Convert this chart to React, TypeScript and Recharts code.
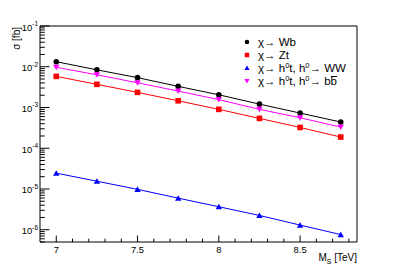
import { Line, LineChart, XAxis, YAxis } from 'recharts'

const masses = [7, 7.25, 7.5, 7.75, 8, 8.25, 8.5, 8.75]
const wb = [0.0133, 0.0084, 0.0054, 0.0033, 0.00205, 0.00121, 0.00073, 0.00044]
const zt = [0.0058, 0.0037, 0.00235, 0.00146, 0.0009, 0.00054, 0.000324, 0.000188]
const hww = [2.45e-5, 1.55e-5, 9.8e-6, 5.96e-6, 3.67e-6, 2.24e-6, 1.3e-6, 7.6e-7]
const hbb = [0.0097, 0.00635, 0.00404, 0.00253, 0.00156, 0.0009, 0.00056, 0.00033]

const xTicks = [7, 7.1, 7.2, 7.3, 7.4, 7.5, 7.6, 7.7, 7.8, 7.9, 8, 8.1, 8.2, 8.3, 8.4, 8.5, 8.6, 8.7, 8.8]
const yMajor = [1e-6, 1e-5, 1e-4, 1e-3, 1e-2, 1e-1]
const yExp = ['-6', '-5', '-4', '-3', '-2', '-1']

const yTicks: number[] = []
;[1e-7, ...yMajor].forEach((d) => {
  for (let k = 1; k <= 9; k++) {
    const v = d * k
    if (v >= 5e-7 && v <= 0.1 * 1.0001) yTicks.push(v)
  }
})

const data = masses.map((m, i) => ({ m, wb: wb[i], zt: zt[i], hww: hww[i], hbb: hbb[i] }))

const FONT = '"Liberation Sans", Arial, Helvetica, sans-serif'

const Circle = ({ cx, cy, s = 1 }: any) => <circle cx={cx} cy={cy} r={2.8 * s} fill='#000' />
const Square = ({ cx, cy, s = 1 }: any) => (
  <rect x={cx - 2.8 * s} y={cy - 2.8 * s} width={5.6 * s} height={5.6 * s} fill='#ff0000' />
)
const TriUp = ({ cx, cy, s = 1 }: any) => (
  <polygon
    points={`${cx - 3.2 * s},${cy + 2.6 * s} ${cx + 3.2 * s},${cy + 2.6 * s} ${cx},${cy - 3 * s}`}
    fill='#0000ff'
  />
)
const TriDown = ({ cx, cy, s = 1 }: any) => (
  <polygon
    points={`${cx - 3.2 * s},${cy - 2.6 * s} ${cx + 3.2 * s},${cy - 2.6 * s} ${cx},${cy + 3 * s}`}
    fill='#ff00ff'
  />
)

function XTick({ x, y, payload }: any) {
  const v = payload.value
  const major = Math.abs(v * 2 - Math.round(v * 2)) < 1e-6
  return (
    <g>
      <line x1={x} x2={x} y1={y} y2={y - (major ? 6.5 : 3.3)} stroke='#000' strokeWidth={1} />
      {major && (
        <text x={x} y={y + 11} textAnchor='middle' fontSize={9.4} fontFamily={FONT} fill='#000'>
          {String(v)}
        </text>
      )}
    </g>
  )
}

function YTick({ x, y, payload }: any) {
  const v = payload.value
  const idx = yMajor.findIndex((d) => Math.abs(v / d - 1) < 1e-6)
  const major = idx >= 0
  return (
    <g>
      <line x1={x} x2={x + (major ? 9.5 : 4.8)} y1={y} y2={y} stroke='#000' strokeWidth={1} />
      {major && (
        <text x={x - 2} y={y + 4.5} textAnchor='end' fontSize={9.4} fontFamily={FONT} fill='#000'>
          10
          <tspan dy={-4.5} fontSize={6.5}>
            {yExp[idx]}
          </tspan>
        </text>
      )}
    </g>
  )
}

function Sup({ children }: any) {
  return <span style={{ fontSize: 7.5, position: 'relative', top: -4.5, lineHeight: '8px' }}>{children}</span>
}

const legendItems = [
  { shape: 'circle', label: <>χ→ Wb</> },
  { shape: 'square', label: <>χ→ Zt</> },
  {
    shape: 'up',
    label: (
      <>
        χ→ h<Sup>0</Sup>t, h<Sup>0</Sup>→ WW
      </>
    ),
  },
  {
    shape: 'down',
    label: (
      <>
        χ→ h<Sup>0</Sup>t, h<Sup>0</Sup>→ b
        <span style={{ display: 'inline-block', borderTop: '1px solid #000', lineHeight: '9px' }}>b</span>
      </>
    ),
  },
]

function LegendBox() {
  return (
    <div style={{ fontFamily: FONT, fontSize: 11.5, color: '#000', lineHeight: '12px' }}>
      {legendItems.map((it, i) => (
        <div key={i} style={{ display: 'flex', alignItems: 'center', height: 13, whiteSpace: 'nowrap' }}>
          <svg width={12} height={12} style={{ marginRight: 4.7, flex: 'none' }}>
            {it.shape === 'circle' && <Circle cx={6} cy={6} s={0.8} />}
            {it.shape === 'square' && <Square cx={6} cy={6} s={0.8} />}
            {it.shape === 'up' && <TriUp cx={6} cy={6} s={0.8} />}
            {it.shape === 'down' && <TriDown cx={6} cy={6} s={0.8} />}
          </svg>
          <span>{it.label}</span>
        </div>
      ))}
    </div>
  )
}

export default function App() {
  return (
    <div style={{ position: 'absolute', left: 0, top: 0, width: 397, height: 269, background: '#fff' }}>
      <LineChart width={397} height={269} data={data} margin={{ top: 25, right: 39, bottom: 26, left: 39 }}>
        <XAxis
          dataKey='m'
          type='number'
          domain={[6.9, 8.85]}
          ticks={xTicks}
          interval={0}
          tick={<XTick />}
          tickLine={false}
          tickSize={0}
          tickMargin={0}
          height={1}
          axisLine={{ stroke: '#000' }}
          allowDataOverflow
          label={{
            content: () => (
              <text x={357} y={261} textAnchor='end' fontSize={10} fontFamily={FONT} fill='#000'>
                M
                <tspan fontSize={7} dy={3}>
                  S
                </tspan>
                <tspan dy={-3}> [TeV]</tspan>
              </text>
            ),
          }}
        />
        <XAxis
          xAxisId='top'
          orientation='top'
          dataKey='m'
          type='number'
          domain={[6.9, 8.85]}
          tick={false}
          tickLine={false}
          height={1}
          axisLine={{ stroke: '#000' }}
        />
        <YAxis
          scale='log'
          domain={[5e-7, 0.1]}
          ticks={yTicks}
          interval={0}
          tick={<YTick />}
          tickLine={false}
          tickSize={0}
          tickMargin={0}
          width={1}
          axisLine={{ stroke: '#000' }}
          allowDataOverflow
          label={{
            content: () => (
              <text
                x={0}
                y={0}
                transform='translate(20,27) rotate(-90)'
                textAnchor='end'
                fontSize={10}
                fontFamily={FONT}
                fill='#000'
              >
                σ [fb]
              </text>
            ),
          }}
        />
        <YAxis
          yAxisId='right'
          orientation='right'
          scale='log'
          domain={[5e-7, 0.1]}
          tick={false}
          tickLine={false}
          width={1}
          axisLine={{ stroke: '#000' }}
        />
        <Line dataKey='wb' stroke='#000' strokeWidth={1} dot={<Circle />} isAnimationActive={false} />
        <Line dataKey='zt' stroke='#ff0000' strokeWidth={1} dot={<Square />} isAnimationActive={false} />
        <Line dataKey='hww' stroke='#0000ff' strokeWidth={1} dot={<TriUp />} isAnimationActive={false} />
        <Line dataKey='hbb' stroke='#ff00ff' strokeWidth={1} dot={<TriDown />} isAnimationActive={false} />
      </LineChart>
      <div style={{ position: 'absolute', left: 241.3, top: 35.5 }}>
        <LegendBox />
      </div>
    </div>
  )
}
